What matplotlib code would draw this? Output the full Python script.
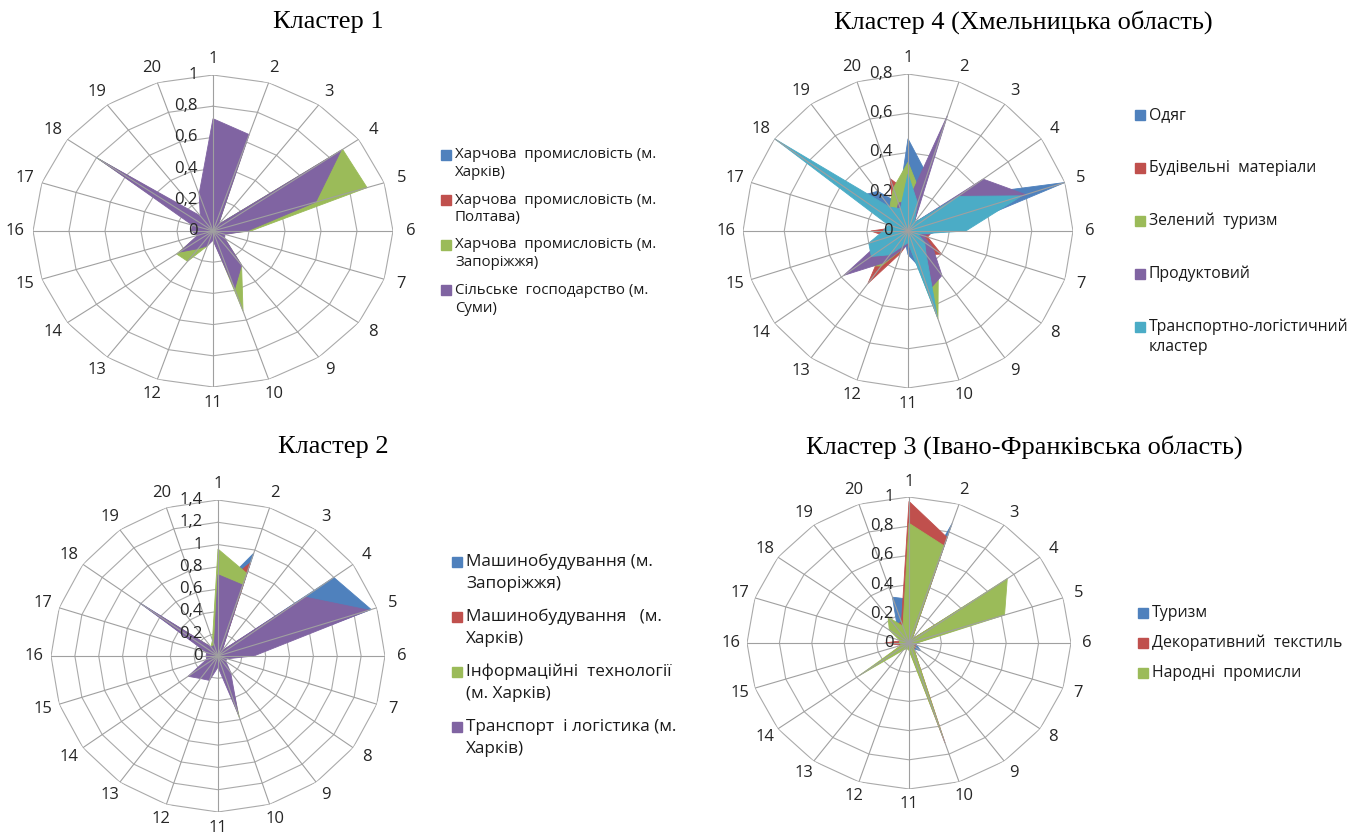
import numpy as np
import matplotlib
matplotlib.use('Agg')
import matplotlib.pyplot as plt
from matplotlib.patches import Rectangle

plt.rcParams['font.family'] = ['Open Sans', 'DejaVu Sans']

W, H = 1365, 836

# номери осей 1..20
axis_labels = [str(i) for i in range(1, 21)]

colors = ['#4F81BD', '#C0504D', '#9BBB59', '#8064A2', '#4BACC6']

# Кластер 1
k1_title = 'Кластер 1'
k1_names = ['Харчова  промисловість (м.\nХарків)',
            'Харчова  промисловість (м.\nПолтава)',
            'Харчова  промисловість (м.\nЗапоріжжя)',
            'Сільське  господарство (м.\nСуми)']
k1_kharkiv = [0.45, 0.4, 0.05, 0.7, 0.75, 0.15, 0.05, 0.06, 0.2, 0.35,
              0.05, 0.08, 0.12, 0.18, 0.06, 0.08, 0.08, 0.8, 0.08, 0.15]
k1_poltava = [0.4, 0.35, 0.04, 0.6, 0.55, 0.12, 0.05, 0.05, 0.18, 0.3,
              0.04, 0.07, 0.12, 0.15, 0.05, 0.07, 0.07, 0.6, 0.07, 0.15]
k1_zaporizh = [0.68, 0.6, 0.05, 0.89, 0.9, 0.21, 0.06, 0.08, 0.27, 0.54,
               0.05, 0.1, 0.24, 0.25, 0.08, 0.1, 0.1, 0.79, 0.1, 0.2]
k1_sumy = [0.72, 0.65, 0.05, 0.88, 0.6, 0.19, 0.07, 0.08, 0.27, 0.39,
           0.06, 0.1, 0.14, 0.23, 0.09, 0.12, 0.12, 0.78, 0.12, 0.25]

# Кластер 4 (Хмельницька область)
k4_title = 'Кластер 4 (Хмельницька область)'
k4_names = ['Одяг', 'Будівельні  матеріали', 'Зелений  туризм', 'Продуктовий',
            'Транспортно-логістичний\nкластер']
k4_odyag = [0.47, 0.3, 0.05, 0.3, 0.8, 0.2, 0.05, 0.08, 0.1, 0.2,
            0.12, 0.05, 0.08, 0.1, 0.1, 0.05, 0.05, 0.3, 0.25, 0.15]
k4_budmat = [0.2, 0.1, 0.04, 0.15, 0.3, 0.12, 0.1, 0.2, 0.15, 0.25,
             0.06, 0.12, 0.33, 0.15, 0.1, 0.18, 0.06, 0.2, 0.12, 0.28]
k4_turyzm = [0.35, 0.2, 0.05, 0.2, 0.35, 0.15, 0.06, 0.1, 0.25, 0.47,
             0.05, 0.1, 0.22, 0.3, 0.12, 0.08, 0.06, 0.25, 0.15, 0.23]
k4_product = [0.15, 0.62, 0.05, 0.45, 0.6, 0.15, 0.08, 0.15, 0.28, 0.32,
              0.07, 0.1, 0.2, 0.385, 0.12, 0.1, 0.08, 0.3, 0.1, 0.15]
k4_transp = [0.29, 0.15, 0.05, 0.3, 0.58, 0.28, 0.05, 0.1, 0.15, 0.46,
             0.06, 0.08, 0.15, 0.22, 0.2, 0.12, 0.1, 0.8, 0.15, 0.12]

# Кластер 2
k2_title = 'Кластер 2'
k2_names = ['Машинобудування (м.\nЗапоріжжя)',
            'Машинобудування   (м.\nХарків)',
            'Інформаційні  технології\n(м. Харків)',
            'Транспорт  і логістика (м.\nХарків)']
k2_mash_zap = [0.6, 0.97, 0.05, 1.2, 1.35, 0.25, 0.06, 0.06, 0.15, 0.45,
               0.06, 0.15, 0.15, 0.2, 0.06, 0.08, 0.08, 0.82, 0.08, 0.1]
k2_mash_kh = [0.6, 0.88, 0.05, 0.8, 1.0, 0.2, 0.05, 0.05, 0.12, 0.4,
              0.05, 0.12, 0.12, 0.18, 0.05, 0.07, 0.07, 0.6, 0.07, 0.1]
k2_it = [0.96, 0.78, 0.04, 0.7, 0.9, 0.2, 0.05, 0.06, 0.15, 0.58,
         0.06, 0.15, 0.15, 0.2, 0.06, 0.08, 0.08, 0.7, 0.1, 0.15]
k2_transp = [0.73, 0.67, 0.06, 0.9, 1.33, 0.3, 0.08, 0.08, 0.18, 0.55,
             0.1, 0.23, 0.25, 0.31, 0.1, 0.1, 0.1, 0.8, 0.1, 0.1]

# Кластер 3 (Івано-Франківська область)
k3_title = 'Кластер 3 (Івано-Франківська область)'
k3_names = ['Туризм', 'Декоративний  текстиль', 'Народні  промисли']
k3_turyzm = [0.3, 0.86, 0.03, 0.5, 0.4, 0.04, 0.05, 0.09, 0.05, 0.5,
             0.04, 0.03, 0.05, 0.2, 0.04, 0.05, 0.05, 0.1, 0.12, 0.33]
k3_tekstyl = [0.97, 0.76, 0.03, 0.5, 0.4, 0.04, 0.04, 0.05, 0.05, 0.72,
              0.04, 0.03, 0.05, 0.25, 0.05, 0.15, 0.05, 0.1, 0.15, 0.15]
k3_promysly = [0.82, 0.7, 0.03, 0.75, 0.62, 0.05, 0.03, 0.04, 0.05, 0.68,
               0.05, 0.04, 0.06, 0.38, 0.05, 0.06, 0.06, 0.15, 0.22, 0.12]

fig = plt.figure(figsize=(W / 100, H / 100), dpi=100)
fig.patch.set_facecolor('white')

theta = np.arange(20) * 2 * np.pi / 20
theta_c = np.append(theta, theta[0])


def radar(cx, cy, rx, ry, rmax, title, names, series,
          leg_x, leg_y, pitch, line_h, fs, title_y):
    ax = fig.add_axes([(cx - rx) / W, 1 - (cy + ry) / H, 2 * rx / W, 2 * ry / H],
                      projection='polar')
    ax.set_aspect('auto')
    ax.set_theta_zero_location('N')
    ax.set_theta_direction(-1)
    ax.set_ylim(0, rmax)
    ax.grid(False)
    ax.set_xticks([])
    ax.set_yticks([])
    ax.spines['polar'].set_visible(False)
    ax.patch.set_alpha(0)

    levels = np.round(np.arange(0, rmax + 1e-9, 0.2), 1)
    for lv in levels[1:]:
        ax.plot(theta_c, [lv] * 21, color='#AAAAAA', lw=0.8, zorder=1)
    for s, c in zip(series, colors):
        vals = np.append(s, s[0])
        ax.fill(theta_c, vals, color=c, lw=0.6, zorder=2)
    for t in theta:
        ax.plot([t, t], [0, rmax], color='#A0A0A0', lw=0.8, zorder=3)

    for t, lbl in zip(theta, axis_labels):
        ax.text(t, rmax * 1.1, lbl, ha='center', va='center', fontsize=12,
                color='#262626', clip_on=False)
    for lv in levels:
        txt = f'{lv:g}'.replace('.', ',')
        ax.annotate(txt, xy=(0, lv), xytext=(-11, 0), textcoords='offset points',
                    ha='right', va='center', fontsize=12, color='#262626',
                    annotation_clip=False)

    fig.text((cx + 115) / W, 1 - title_y / H, title, family='Liberation Serif',
             fontsize=19, ha='center', va='center')

    y = leg_y
    for name, c in zip(names, colors):
        lines = name.split('\n')
        fig.patches.append(Rectangle((leg_x / W, 1 - (y + 5) / H), 10 / W, 10 / H,
                                     transform=fig.transFigure, color=c))
        for j, ln in enumerate(lines):
            fig.text((leg_x + 14) / W, 1 - (y + j * line_h) / H, ln, fontsize=fs,
                     ha='left', va='center', color='#1a1a1a')
        y += pitch


radar(213, 231, 180, 156, 1.0, k1_title, k1_names,
      [k1_kharkiv, k1_poltava, k1_zaporizh, k1_sumy],
      441, 155, 45, 18, 10.8, 22)
radar(908, 231, 165, 157, 0.8, k4_title, k4_names,
      [k4_odyag, k4_budmat, k4_turyzm, k4_product, k4_transp],
      1135, 115, 53, 20, 11.3, 22)
radar(218, 656, 167, 156, 1.4, k2_title, k2_names,
      [k2_mash_zap, k2_mash_kh, k2_it, k2_transp],
      452, 562, 55, 22, 12.3, 447)
radar(909, 643, 162, 146, 1.0, k3_title, k3_names,
      [k3_turyzm, k3_tekstyl, k3_promysly],
      1138, 613, 30, 20, 11.4, 447)

fig.savefig('out.png', dpi=100)
